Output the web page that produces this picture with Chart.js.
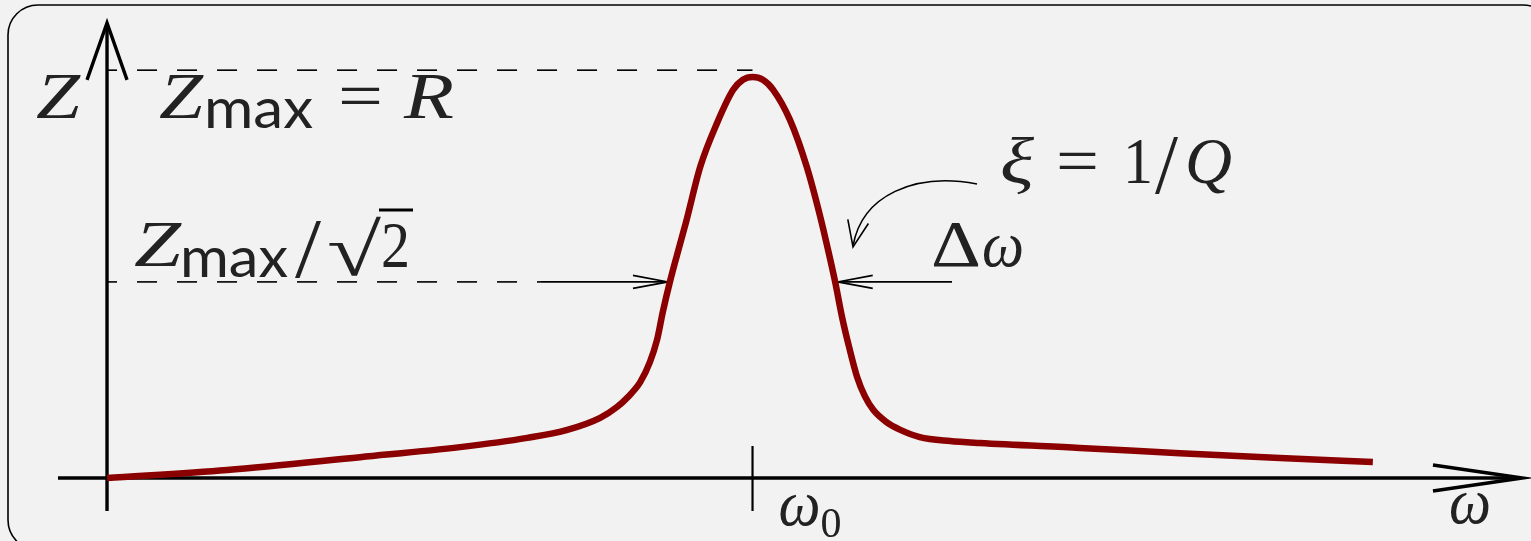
<!DOCTYPE html>
<html><head><meta charset="utf-8">
<script src="https://cdn.jsdelivr.net/npm/chart.js@4/dist/chart.umd.min.js"></script>
<style>
html,body{margin:0;padding:0;background:#f2f2f2;overflow:hidden}
#wrap{position:relative;width:1531px;height:541px}
canvas{display:block;position:absolute;left:0;top:0}
#labels{position:absolute;left:0;top:0;pointer-events:none}
#labels text{fill:#222}
.mi{font-family:"Liberation Serif","DejaVu Serif",serif;font-style:italic;font-size:66px}
.rm{font-family:"Liberation Serif","DejaVu Serif",serif;font-size:66px}
.sf{font-family:Lato,"Open Sans",sans-serif;font-size:56px}
</style>
</head><body>
<div id="wrap">
<canvas id="c" width="1531" height="541"></canvas>
<svg id="labels" width="1531" height="541" xmlns="http://www.w3.org/2000/svg"></svg>
</div>
<script>
// ---- data (ω in units of ω0, Z in units of Zmax) ----
const omega = [0, 0.186, 0.392, 0.547, 0.651, 0.713, 0.764, 0.790, 0.807, 0.826, 0.841, 0.852, 0.861, 0.872, 0.883, 0.897,
               0.919, 0.945, 0.970, 0.985, 1.0, 1.016, 1.032, 1.058, 1.084, 1.105, 1.117, 1.128, 1.139, 1.150, 1.162,
               1.174, 1.187, 1.207, 1.229, 1.259, 1.306, 1.352, 1.507, 1.662, 1.817, 1.961];
const impedance = [0, 0.020, 0.052, 0.077, 0.100, 0.120, 0.150, 0.177, 0.202, 0.239, 0.289, 0.344, 0.414, 0.489, 0.556, 0.638,
                   0.776, 0.885, 0.968, 0.993, 1.0, 0.993, 0.968, 0.893, 0.776, 0.651, 0.569, 0.489, 0.399, 0.324, 0.252,
                   0.204, 0.170, 0.140, 0.120, 0.102, 0.092, 0.087, 0.075, 0.062, 0.050, 0.040];
const resonanceOmega = [1.0];
const levelValues = [1.017, 0.489];        // Zmax line, Zmax/√2 line (as drawn)
const bandEdges = [0.869, 1.132];          // where the Δω arrows touch the curve
const bandArrowStarts = [0.671, 1.309];
const xAxisRange = [-0.076, 2.192];
const yAxisRange = [-0.082, 1.135];
const tickLabels = ['ω', '0'];
const axisLabels = ['Z', 'ω'];

const X_MIN = -0.1658, X_MAX = 2.2060, Y_MIN = -0.1571, Y_MAX = 1.1920;

function line(ctx, x1, y1, x2, y2, lw, dash, offset) {
  ctx.save();
  ctx.lineWidth = lw; ctx.strokeStyle = '#000';
  ctx.setLineDash(dash || []);
  ctx.lineDashOffset = offset || 0;
  ctx.beginPath(); ctx.moveTo(x1, y1); ctx.lineTo(x2, y2); ctx.stroke();
  ctx.restore();
}
function head(ctx, tx, ty, dx, dy, len, half, lw) {
  const n = Math.hypot(dx, dy); dx /= n; dy /= n;
  const bx = tx - dx * len, by = ty - dy * len;
  ctx.save();
  ctx.lineWidth = lw; ctx.strokeStyle = '#000'; ctx.lineCap = 'butt'; ctx.lineJoin = 'miter';
  ctx.beginPath();
  ctx.moveTo(bx - dy * half, by + dx * half);
  ctx.lineTo(tx, ty);
  ctx.lineTo(bx + dy * half, by - dx * half);
  ctx.stroke();
  ctx.restore();
}

const deco = {
  id: 'deco',
  beforeDraw(chart) {
    const ctx = chart.ctx;
    ctx.save();
    ctx.fillStyle = '#f2f2f2';
    ctx.fillRect(0, 0, chart.width, chart.height);
    ctx.lineWidth = 1.6; ctx.strokeStyle = '#000';
    ctx.beginPath();
    ctx.roundRect(8, 5, 1545, 545, 30);
    ctx.stroke();
    ctx.restore();
  },
  beforeDatasetsDraw(chart) {
    const ctx = chart.ctx, xs = chart.scales.x, ys = chart.scales.y;
    const X = v => xs.getPixelForValue(v), Y = v => ys.getPixelForValue(v);
    const x0 = X(0), y0 = Y(0);
    // dashed reference levels
    line(ctx, x0, Y(levelValues[0]), X(resonanceOmega[0]), Y(levelValues[0]), 1.6, [20, 20], 10);
    line(ctx, x0, Y(levelValues[1]), X(bandArrowStarts[0]), Y(levelValues[1]), 1.6, [20, 20], 10);
    // Δω arrows
    const yh = Y(levelValues[1]);
    line(ctx, X(bandArrowStarts[0]), yh, X(bandEdges[0]), yh, 1.6);
    head(ctx, X(bandEdges[0]), yh, 1, 0, 35, 6.5, 1.6);
    line(ctx, X(bandArrowStarts[1]), yh, X(bandEdges[1]), yh, 1.6);
    head(ctx, X(bandEdges[1]), yh, -1, 0, 35, 6.5, 1.6);
    // axes
    line(ctx, X(xAxisRange[0]), y0, X(xAxisRange[1]) - 2, y0, 3.4);
    head(ctx, X(xAxisRange[1]), y0, 1, 0, 89, 13, 3.4);
    line(ctx, x0, Y(yAxisRange[0]), x0, Y(yAxisRange[1]) + 2, 3.4);
    head(ctx, x0, Y(yAxisRange[1]), 0, -1, 57, 20, 3.4);
    // ω0 tick
    line(ctx, X(resonanceOmega[0]), y0 - 32, X(resonanceOmega[0]), y0 + 33, 2.2);
    // curved arrow ξ -> Δω
    ctx.save();
    ctx.lineWidth = 1.6; ctx.strokeStyle = '#000';
    ctx.beginPath();
    ctx.moveTo(977, 184);
    ctx.bezierCurveTo(915, 172, 862, 195, 853, 246);
    ctx.stroke();
    ctx.restore();
    head(ctx, 853, 247, -0.2, 1, 26, 10.5, 1.6);
  },
  afterDraw(chart) {
    // vinculum of the square root
    line(chart.ctx, 379, 210, 413, 210, 3);
  }
};

const chart = new Chart(document.getElementById('c'), {
  type: 'line',
  data: {
    datasets: [{
      data: omega.map((w, i) => ({ x: w, y: impedance[i] })),
      borderColor: '#8b0000',
      borderWidth: 6.5,
      pointRadius: 0,
      fill: false,
      cubicInterpolationMode: 'monotone',
      borderCapStyle: 'butt',
      borderJoinStyle: 'round',
      clip: false
    }]
  },
  options: {
    responsive: false,
    animation: false,
    devicePixelRatio: 1,
    layout: { padding: 0 },
    plugins: { legend: { display: false }, tooltip: { enabled: false }, title: { display: false } },
    scales: {
      x: { type: 'linear', min: X_MIN, max: X_MAX, display: false },
      y: { type: 'linear', min: Y_MIN, max: Y_MAX, display: false }
    }
  },
  plugins: [deco]
});

// ---- text labels (real SVG text) ----
const svg = document.getElementById('labels');
function t(s, cls, x, y, w, size) {
  const el = document.createElementNS('http://www.w3.org/2000/svg', 'text');
  el.setAttribute('class', cls);
  el.setAttribute('x', x); el.setAttribute('y', y);
  if (w) { el.setAttribute('textLength', w); el.setAttribute('lengthAdjust', 'spacingAndGlyphs'); }
  if (size) el.style.fontSize = size + 'px';
  el.textContent = s;
  svg.appendChild(el);
}
const xT = chart.scales.x.getPixelForValue(resonanceOmega[0]);
// axis labels
t(axisLabels[0], 'mi', 36, 118, 44);
t(axisLabels[1], 'mi', 1449, 523, 42);
// ω0
t(tickLabels[0], 'mi', xT + 26, 525, 42);
t(tickLabels[1], 'rm', xT + 68, 537, 21, 43);
// Zmax = R
t('Z', 'mi', 159, 118, 44);
t('max', 'sf', 204, 128, 109);
t('=', 'rm', 338, 118, 45);
t('R', 'mi', 404, 118, 50);
// Zmax/√2
t('Z', 'mi', 134, 266, 47);
t('max', 'sf', 180, 277, 108);
t('/', 'rm', 295, 277, 26, 84);
t('√', 'rm', 327, 275, 54, 74);
t('2', 'rm', 381, 267, 29);
// ξ = 1/Q
t('ξ', 'mi', 1000, 183, 34);
t('=', 'rm', 1056, 183, 43);
t('1', 'rm', 1123, 183, 30);
t('/', 'rm', 1155, 193, 23, 84);
t('Q', 'mi', 1185, 183, 47);
// Δω
t('Δ', 'rm', 931, 266, 50);
t('ω', 'mi', 982, 266, 42);
</script>
</body></html>
